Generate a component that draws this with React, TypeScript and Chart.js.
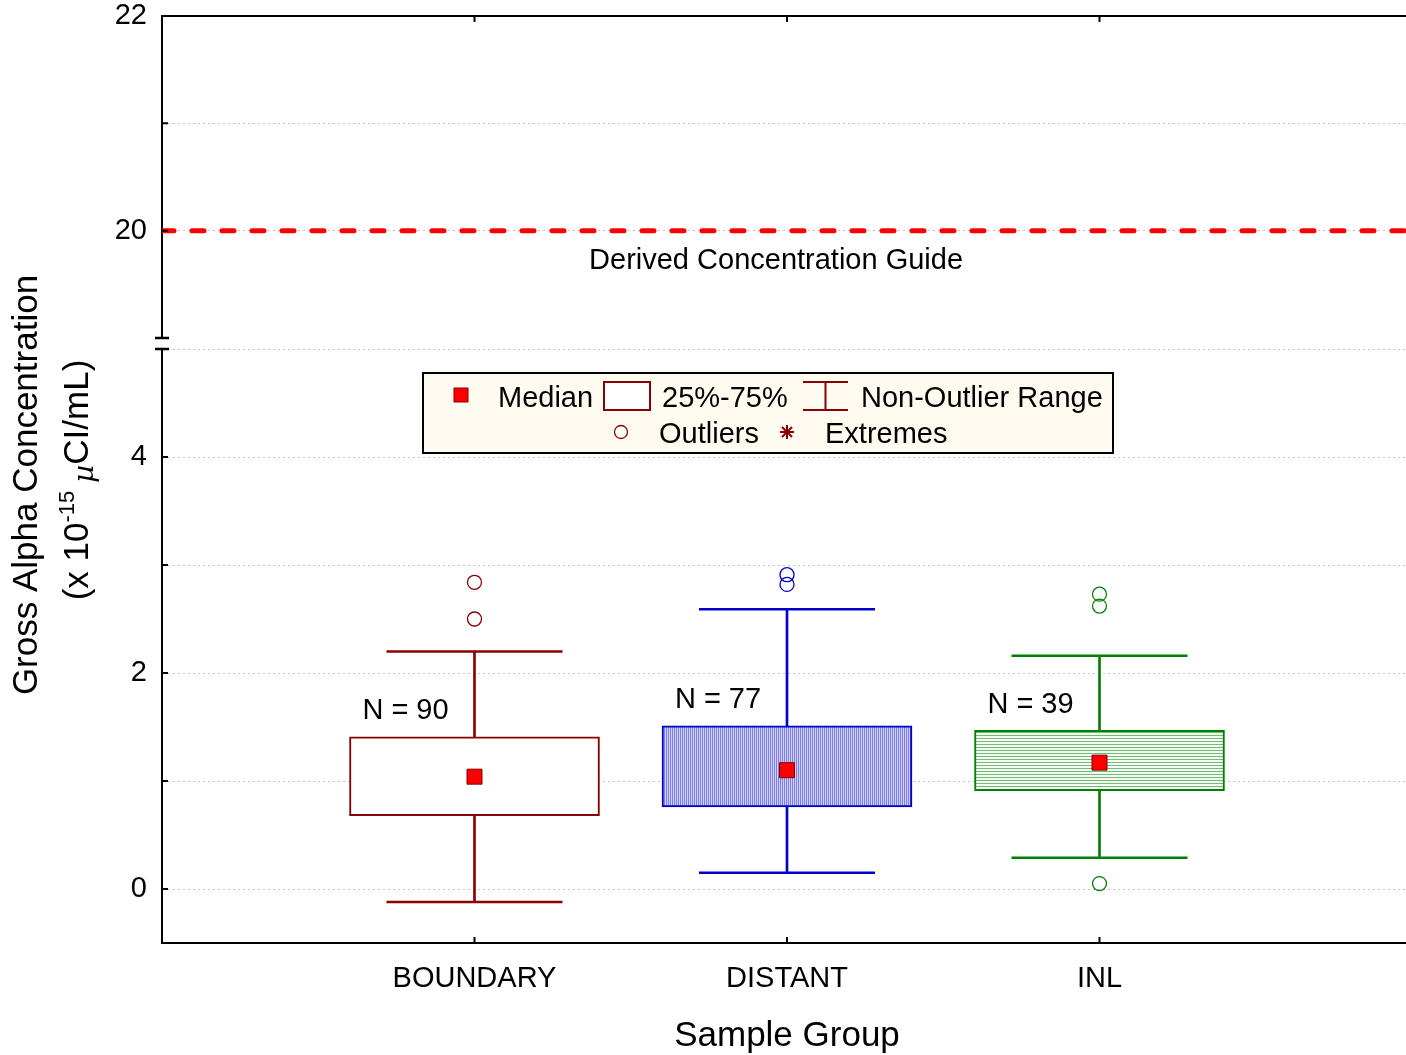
import React, { useEffect, useRef } from 'react';
import { Chart, registerables } from 'chart.js';

Chart.register(...registerables);

// ---------------- data ----------------
const categories = ['BOUNDARY', 'DISTANT', 'INL'];
const categoryX = [1, 2, 3];
const whiskerLow = [-0.12, 0.15, 0.29];
const q1 = [0.68, 0.76, 0.91];
const median = [1.04, 1.1, 1.17];
const q3 = [1.41, 1.51, 1.47];
const whiskerHigh = [2.2, 2.59, 2.16];
const outliersBoundary = [2.84, 2.5];
const outliersDistant = [2.91, 2.82];
const outliersInl = [2.73, 2.62, 0.05];
const sampleCounts = [90, 77, 39];
const guideValue = 20;
const guideLabel = 'Derived Concentration Guide';
const xRange = [0, 4];
const yTopRange = [19, 22];
const yBottomRange = [-0.5, 5];
const yTopTicks = [20, 21, 22];
const yTopLabels = [20, 22];
const yBottomTicks = [0, 1, 2, 3, 4, 5];
const yBottomLabels = [0, 2, 4];
const legendRow1 = ['Median', '25%-75%', 'Non-Outlier Range'];
const legendRow2 = ['Outliers', 'Extremes'];
const xTitle = 'Sample Group';
const yTitleLine1 = 'Gross Alpha Concentration';
const yTitleLine2 = ['(x 10', '-15', '  ', 'µ', 'CI/mL)'];

// ---------------- styles ----------------
const FONT = '"Liberation Sans", Arial, Helvetica, sans-serif';
const colors = ['#8B0000', '#0000CD', '#008000'];
const LEGEND_RED = '#8B0000';

function stripePattern(ctx: CanvasRenderingContext2D, vertical: boolean, line: string, bg: string, period: number) {
  const c = document.createElement('canvas');
  c.width = period;
  c.height = period;
  const g = c.getContext('2d')!;
  g.fillStyle = bg;
  g.fillRect(0, 0, period, period);
  g.fillStyle = line;
  if (vertical) g.fillRect(0, 0, 1, period);
  else g.fillRect(0, 0, period, 1);
  return ctx.createPattern(c, 'repeat');
}

const overlayPlugin = {
  id: 'overlay',
  afterDraw(chart: any) {
    const ctx: CanvasRenderingContext2D = chart.ctx;
    const area = chart.chartArea;
    const xs = chart.scales.x;
    const yT = chart.scales.yTop;
    const yB = chart.scales.yBottom;
    ctx.save();

    // inward tick marks
    ctx.strokeStyle = '#000';
    ctx.lineWidth = 2;
    ctx.beginPath();
    const tl = 6;
    const yt: Array<[any, number[]]> = [[yT, yTopTicks], [yB, yBottomTicks]];
    yt.forEach(([s, ticks]) => {
      ticks.forEach((v) => {
        const py = s.getPixelForValue(v);
        ctx.moveTo(area.left, py);
        ctx.lineTo(area.left + tl, py);
        ctx.moveTo(area.right, py);
        ctx.lineTo(area.right - tl, py);
      });
    });
    categoryX.forEach((v) => {
      const px = xs.getPixelForValue(v);
      ctx.moveTo(px, area.bottom);
      ctx.lineTo(px, area.bottom - tl);
      ctx.moveTo(px, area.top);
      ctx.lineTo(px, area.top + tl);
    });
    ctx.stroke();

    // axis break marks
    ctx.lineWidth = 2.5;
    ctx.beginPath();
    ctx.moveTo(area.left - 7, yT.bottom);
    ctx.lineTo(area.left + 7, yT.bottom);
    ctx.moveTo(area.left - 7, yB.top);
    ctx.lineTo(area.left + 7, yB.top);
    ctx.stroke();

    // N labels
    ctx.fillStyle = '#000';
    ctx.font = `29px ${FONT}`;
    ctx.textAlign = 'center';
    ctx.textBaseline = 'alphabetic';
    categoryX.forEach((v, i) => {
      const px = xs.getPixelForValue(v) - 69;
      const py = yB.getPixelForValue(q3[i]) - 17.5;
      ctx.fillText(`N = ${sampleCounts[i]}`, px, py);
    });

    // guide label
    ctx.fillText(guideLabel, xs.getPixelForValue(1.965), yT.getPixelForValue(19.645));

    // legend
    const L = { l: 423, t: 373, r: 1113, b: 453 };
    ctx.fillStyle = '#FFFBF0';
    ctx.fillRect(L.l, L.t, L.r - L.l, L.b - L.t);
    ctx.strokeStyle = '#000';
    ctx.lineWidth = 2;
    ctx.strokeRect(L.l, L.t, L.r - L.l, L.b - L.t);

    const row1 = 407;
    const row2 = 443;
    // median marker
    ctx.fillStyle = '#FF0000';
    ctx.fillRect(454, 388, 14, 14);
    ctx.strokeStyle = LEGEND_RED;
    ctx.lineWidth = 1;
    ctx.strokeRect(454, 388, 14, 14);
    // box icon
    ctx.fillStyle = '#fff';
    ctx.fillRect(604, 382, 46, 28);
    ctx.strokeStyle = LEGEND_RED;
    ctx.lineWidth = 2;
    ctx.strokeRect(604, 382, 46, 28);
    // whisker icon
    ctx.beginPath();
    ctx.moveTo(803, 382);
    ctx.lineTo(848, 382);
    ctx.moveTo(803, 410);
    ctx.lineTo(848, 410);
    ctx.moveTo(825.5, 382);
    ctx.lineTo(825.5, 410);
    ctx.stroke();
    // outlier circle
    ctx.fillStyle = '#fff';
    ctx.lineWidth = 1.3;
    ctx.beginPath();
    ctx.arc(621, 432, 6.5, 0, Math.PI * 2);
    ctx.fill();
    ctx.stroke();
    // extremes asterisk
    ctx.lineWidth = 2;
    ctx.beginPath();
    const ax = 787, ay = 432, ar = 7;
    ctx.moveTo(ax, ay - ar);
    ctx.lineTo(ax, ay + ar);
    ctx.moveTo(ax - ar, ay);
    ctx.lineTo(ax + ar, ay);
    ctx.moveTo(ax - 5, ay - 5);
    ctx.lineTo(ax + 5, ay + 5);
    ctx.moveTo(ax + 5, ay - 5);
    ctx.lineTo(ax - 5, ay + 5);
    ctx.stroke();

    ctx.fillStyle = '#000';
    ctx.font = `29px ${FONT}`;
    ctx.textAlign = 'left';
    ctx.fillText(legendRow1[0], 498, row1);
    ctx.fillText(legendRow1[1], 662, row1);
    ctx.fillText(legendRow1[2], 861, row1);
    ctx.fillText(legendRow2[0], 659, row2);
    ctx.fillText(legendRow2[1], 825, row2);

    // y axis title (two lines, rotated)
    ctx.save();
    ctx.translate(37, 485);
    ctx.rotate(-Math.PI / 2);
    ctx.font = `35px ${FONT}`;
    ctx.textAlign = 'center';
    ctx.fillText(yTitleLine1, 0, 0);
    ctx.restore();

    const segs = [
      { t: yTitleLine2[0], font: `35px ${FONT}`, dy: 0 },
      { t: yTitleLine2[1], font: `22px ${FONT}`, dy: -14 },
      { t: yTitleLine2[2], font: `14px ${FONT}`, dy: 0 },
      { t: yTitleLine2[3], font: `italic 28px "DejaVu Serif", serif`, dy: 5 },
      { t: yTitleLine2[4], font: `35px ${FONT}`, dy: 0 },
    ];
    let total = 0;
    const widths = segs.map((s) => {
      ctx.font = s.font;
      const w = ctx.measureText(s.t).width;
      total += w;
      return w;
    });
    ctx.save();
    ctx.translate(88, 480);
    ctx.rotate(-Math.PI / 2);
    ctx.textAlign = 'left';
    let cx = -total / 2;
    segs.forEach((s, i) => {
      ctx.font = s.font;
      ctx.fillText(s.t, cx, s.dy);
      cx += widths[i];
    });
    ctx.restore();

    ctx.restore();
  },
};

const fixVertical = (s: any) => {
  s.width = 162;
  s.paddingTop = 0;
  s.paddingBottom = 0;
};

export default function App() {
  const ref = useRef<HTMLCanvasElement>(null);

  useEffect(() => {
    const canvas = ref.current!;
    const ctx = canvas.getContext('2d')!;
    Chart.defaults.font.family = FONT;

    const bluePattern = stripePattern(ctx, true, '#7c7ceb', '#d2d2f8', 2);
    const greenPattern = stripePattern(ctx, false, '#74ba74', '#f4fbf4', 3);
    const boxFills = ['#ffffff', bluePattern, greenPattern];

    const outlierSets = [outliersBoundary, outliersDistant, outliersInl];

    const capData = [
      ...categoryX.map((c, i) => ({ x: c, y: whiskerLow[i] })),
      ...categoryX.map((c, i) => ({ x: c, y: whiskerHigh[i] })),
    ];
    const capColors = [...colors, ...colors];

    const datasets: any[] = [
      {
        type: 'line',
        label: 'Median',
        data: categoryX.map((c, i) => ({ x: c, y: median[i] })),
        xAxisID: 'x',
        yAxisID: 'yBottom',
        showLine: false,
        pointStyle: 'rect',
        pointRadius: 10.6,
        pointHoverRadius: 10.6,
        pointBackgroundColor: '#FF0000',
        pointBorderColor: '#800000',
        pointBorderWidth: 1,
        order: 0,
      },
      ...outlierSets.map((set, k) => ({
        type: 'line',
        label: 'Outliers ' + categories[k],
        data: set.map((v) => ({ x: categoryX[k], y: v })),
        xAxisID: 'x',
        yAxisID: 'yBottom',
        showLine: false,
        pointStyle: 'circle',
        pointRadius: 7,
        pointHoverRadius: 7,
        pointBackgroundColor: 'rgba(255,255,255,0)',
        pointBorderColor: colors[k],
        pointBorderWidth: 1.3,
        order: 1,
      })),
      {
        type: 'line',
        label: 'Non-Outlier Range caps',
        data: capData,
        xAxisID: 'x',
        yAxisID: 'yBottom',
        showLine: false,
        pointStyle: 'line',
        pointRadius: 88,
        pointHoverRadius: 88,
        pointBorderColor: capColors,
        pointBorderWidth: 2.5,
        order: 2,
      },
      {
        type: 'bar',
        label: '25%-75%',
        data: categoryX.map((c, i) => ({ x: c, y: [q1[i], q3[i]] })),
        xAxisID: 'x',
        yAxisID: 'yBottom',
        backgroundColor: boxFills,
        borderColor: colors,
        borderWidth: 2,
        borderSkipped: false,
        barThickness: 250,
        grouped: false,
        order: 3,
      },
      {
        type: 'bar',
        label: 'Lower whisker',
        data: categoryX.map((c, i) => ({ x: c, y: [whiskerLow[i], q1[i]] })),
        xAxisID: 'x',
        yAxisID: 'yBottom',
        backgroundColor: colors,
        borderWidth: 0,
        barThickness: 2,
        grouped: false,
        order: 4,
      },
      {
        type: 'bar',
        label: 'Upper whisker',
        data: categoryX.map((c, i) => ({ x: c, y: [q3[i], whiskerHigh[i]] })),
        xAxisID: 'x',
        yAxisID: 'yBottom',
        backgroundColor: colors,
        borderWidth: 0,
        barThickness: 2,
        grouped: false,
        order: 4,
      },
      {
        type: 'line',
        label: guideLabel,
        data: [
          { x: xRange[0], y: guideValue },
          { x: xRange[1], y: guideValue },
        ],
        xAxisID: 'x',
        yAxisID: 'yTop',
        borderColor: '#FF0000',
        borderWidth: 5,
        borderDash: [12, 18],
        borderCapStyle: 'round',
        pointRadius: 0,
        pointHoverRadius: 0,
        order: 5,
      },
    ];

    const gridGray = '#c4c4c4';
    const tickFont = { size: 29, family: FONT };

    const chart = new Chart(ctx, {
      type: 'bar',
      data: { datasets },
      plugins: [overlayPlugin],
      options: {
        animation: false,
        responsive: true,
        maintainAspectRatio: false,
        layout: { autoPadding: false, padding: { left: 0, right: 2, top: 0, bottom: 0 } },
        plugins: {
          legend: { display: false },
          tooltip: { enabled: false },
          title: { display: false },
        },
        scales: {
          x: {
            type: 'linear',
            position: 'bottom',
            min: xRange[0],
            max: xRange[1],
            offset: false,
            afterBuildTicks: (s: any) => {
              s.ticks = categoryX.map((v) => ({ value: v }));
            },
            afterFit: (s: any) => {
              s.height = 112;
              s.paddingLeft = 0;
              s.paddingRight = 0;
            },
            ticks: {
              font: tickFont,
              color: '#000',
              padding: 19,
              maxRotation: 0,
              autoSkip: false,
              callback: (v: any) => categories[categoryX.indexOf(Number(v))] ?? '',
            },
            grid: { display: true, drawOnChartArea: false, drawTicks: false, offset: false },
            border: { display: true, color: '#000', width: 2 },
            title: {
              display: true,
              text: xTitle,
              color: '#000',
              font: { size: 35, family: FONT },
              padding: { top: 0, bottom: -2 },
            },
          },
          x2: {
            type: 'linear',
            position: 'top',
            min: xRange[0],
            max: xRange[1],
            offset: false,
            afterFit: (s: any) => {
              s.height = 16;
              s.paddingLeft = 0;
              s.paddingRight = 0;
            },
            ticks: { display: false },
            grid: { display: true, drawOnChartArea: false, drawTicks: false, offset: false },
            border: { display: true, color: '#000', width: 2 },
          },
          yBottom: {
            type: 'linear',
            position: 'left',
            stack: 'yStack',
            stackWeight: 594,
            min: yBottomRange[0],
            max: yBottomRange[1],
            afterBuildTicks: (s: any) => {
              s.ticks = yBottomTicks.map((v) => ({ value: v }));
            },
            afterFit: fixVertical,
            ticks: {
              font: tickFont,
              color: '#000',
              padding: 15,
              callback: (v: any) => (yBottomLabels.includes(Number(v)) ? String(v) : ''),
            },
            grid: { color: gridGray, lineWidth: 1, drawTicks: false },
            border: { display: true, color: '#000', width: 2, dash: [2, 3] },
          },
          yGap: {
            type: 'linear',
            position: 'left',
            stack: 'yStack',
            stackWeight: 11,
            min: 0,
            max: 1,
            afterFit: fixVertical,
            ticks: { display: false },
            grid: { display: false },
            border: { display: false },
          },
          yTop: {
            type: 'linear',
            position: 'left',
            stack: 'yStack',
            stackWeight: 322,
            min: yTopRange[0],
            max: yTopRange[1],
            afterBuildTicks: (s: any) => {
              s.ticks = yTopTicks.map((v) => ({ value: v }));
            },
            afterFit: fixVertical,
            ticks: {
              font: tickFont,
              color: '#000',
              padding: 15,
              callback: (v: any) => (yTopLabels.includes(Number(v)) ? String(v) : ''),
            },
            grid: { color: gridGray, lineWidth: 1, drawTicks: false },
            border: { display: true, color: '#000', width: 2, dash: [2, 3] },
          },
        },
      } as any,
    });

    return () => chart.destroy();
  }, []);

  return (
    <div
      style={{
        position: 'fixed',
        left: 0,
        top: 0,
        width: 1406,
        height: 1055,
        overflow: 'hidden',
        background: '#fff',
      }}
    >
      <div style={{ position: 'relative', width: 1414, height: 1055 }}>
        <canvas ref={ref} />
      </div>
    </div>
  );
}
